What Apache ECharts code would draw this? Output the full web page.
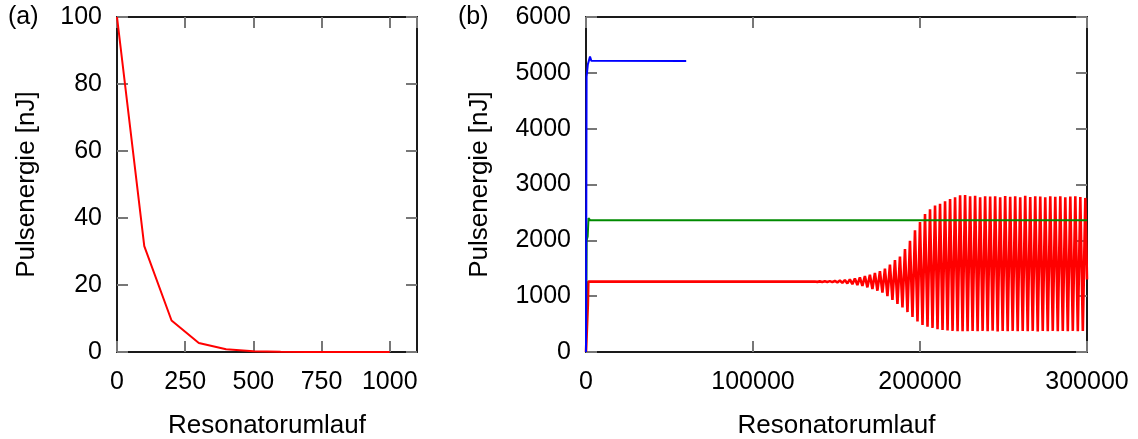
<!DOCTYPE html>
<html>
<head>
<meta charset="utf-8">
<title>Pulsenergie</title>
<script src="https://cdn.jsdelivr.net/npm/echarts@6/dist/echarts.min.js"></script>
<style>
	html, body { margin: 0; padding: 0; background: #fff; }
	#chart { width: 1138px; height: 439px; }
</style>
</head>
<body>
<div id="chart"></div>
<script>
// (a) Pulsenergie ueber die ersten Umlaeufe
var roundsA = [0, 100, 200, 300, 400, 500, 600, 700, 800, 900, 1000];
var energyA = [100, 31.6, 9.4, 2.7, 0.8, 0.25, 0.07, 0.02, 0.006, 0.002, 0.0005];

// (b) blau, gruen, rot
var blueRounds = [0, 350, 1100, 2400, 3200, 60000];
var blueEnergy = [0, 4930, 5150, 5290, 5215, 5210];

var greenRounds = [0, 400, 1000, 1500, 2500, 300000];
var greenEnergy = [0, 2000, 2070, 2400, 2358, 2358];

var redRounds = [0, 1100, 1400, 135500];
var redEnergy = [0, 850, 1262, 1260];

var redPeakRounds = [137000, 140000, 143000, 146000, 149000, 152000, 155000, 158000, 161000, 164000,
	167000, 170000, 173000, 176000, 179000, 182000, 185000, 188000, 191000, 194000,
	197000, 200000, 203000, 206000, 209000, 212000, 215000, 218000, 221000, 224000,
	227000, 230000, 233000, 236000, 239000, 242000, 245000, 248000, 251000, 254000,
	257000, 260000, 263000, 266000, 269000, 272000, 275000, 278000, 281000, 284000,
	287000, 290000, 293000, 296000, 299000];
var redPeakEnergy = [1264, 1265, 1267, 1269, 1272, 1280, 1290, 1300, 1315, 1335,
	1360, 1385, 1415, 1450, 1495, 1565, 1645, 1710, 1845, 1990,
	2180, 2330, 2470, 2555, 2625, 2655, 2700, 2740, 2770, 2805,
	2810, 2790, 2800, 2770, 2790, 2785, 2790, 2770, 2795, 2780,
	2790, 2770, 2800, 2775, 2790, 2785, 2770, 2790, 2780, 2790,
	2770, 2785, 2790, 2775, 2760];
var redTroughRounds = [138500, 141500, 144500, 147500, 150500, 153500, 156500, 159500, 162500, 165500,
	168500, 171500, 174500, 177500, 180500, 183500, 186500, 189500, 192500, 195500,
	198500, 201500, 204500, 207500, 210500, 213500, 216500, 219500, 222500, 225500,
	228500, 231500, 234500, 237500, 240500, 243500, 246500, 249500, 252500, 255500,
	258500, 261500, 264500, 267500, 270500, 273500, 276500, 279500, 282500, 285500,
	288500, 291500, 294500, 297500];
var redTroughEnergy = [1256, 1255, 1253, 1251, 1246, 1238, 1228, 1215, 1200, 1182,
	1158, 1128, 1098, 1062, 1000, 935, 860, 800, 715, 628,
	545, 485, 452, 432, 410, 395, 385, 378, 372, 370,
	372, 375, 370, 378, 372, 380, 368, 375, 372, 378,
	370, 375, 372, 378, 368, 375, 372, 378, 370, 375,
	372, 378, 370, 375];
var redEndRound = 300000;
var redEndEnergy = 1300;

var xTicksA = [0, 250, 500, 750, 1000];
var yTicksA = [0, 20, 40, 60, 80, 100];
var xTicksB = [0, 100000, 200000, 300000];
var yTicksB = [0, 1000, 2000, 3000, 4000, 5000, 6000];

function pairs(xs, ys) {
	var out = [];
	for (var i = 0; i < xs.length; i++) {
		out.push([xs[i], ys[i]]);
	}
	return out;
}

var redData = pairs(redRounds, redEnergy);
for (var i = 0; i < redPeakRounds.length; i++) {
	redData.push([redPeakRounds[i], redPeakEnergy[i]]);
	if (i < redTroughRounds.length) {
		redData.push([redTroughRounds[i], redTroughEnergy[i]]);
	}
}
redData.push([redEndRound, redEndEnergy]);

var FONT = '"Liberation Sans", Arial, sans-serif';
var frame = { show: true, onZero: false, lineStyle: { color: '#1a1a1a', width: 2 } };
var ticks = { show: true, inside: true, length: 11, lineStyle: { color: '#777', width: 2 } };
var tickLabel = { color: '#000', fontSize: 25, fontFamily: FONT, formatter: function(v) { return String(v); } };
var nameStyle = { color: '#000', fontSize: 26, fontFamily: FONT };

function mainX(grid, ticksArr, max, gap) {
	return {
		type: 'value', gridIndex: grid, position: 'bottom',
		min: ticksArr[0], max: max, interval: ticksArr[1] - ticksArr[0],
		name: 'Resonatorumlauf', nameLocation: 'middle', nameGap: gap, nameTextStyle: nameStyle,
		axisLine: frame, axisTick: ticks, splitLine: { show: false },
		axisLabel: Object.assign({ margin: 18, showMaxLabel: max === ticksArr[ticksArr.length - 1] }, tickLabel)
	};
}
function mirrorX(grid, ticksArr, max) {
	return {
		type: 'value', gridIndex: grid, position: 'top',
		min: ticksArr[0], max: max, interval: ticksArr[1] - ticksArr[0],
		axisLine: frame, axisTick: ticks, splitLine: { show: false }, axisLabel: { show: false }
	};
}
function mainY(grid, ticksArr, gap) {
	return {
		type: 'value', gridIndex: grid, position: 'left',
		min: ticksArr[0], max: ticksArr[ticksArr.length - 1], interval: ticksArr[1] - ticksArr[0],
		name: 'Pulsenergie [nJ]', nameLocation: 'middle', nameGap: gap, nameTextStyle: nameStyle,
		axisLine: frame, axisTick: ticks, splitLine: { show: false },
		axisLabel: Object.assign({ margin: 15 }, tickLabel)
	};
}
function mirrorY(grid, ticksArr) {
	return {
		type: 'value', gridIndex: grid, position: 'right',
		min: ticksArr[0], max: ticksArr[ticksArr.length - 1], interval: ticksArr[1] - ticksArr[0],
		axisLine: frame, axisTick: ticks, splitLine: { show: false }, axisLabel: { show: false }
	};
}

var chart = echarts.init(document.getElementById('chart'), null, { renderer: 'canvas' });
chart.setOption({
	animation: false,
	backgroundColor: '#fff',
	grid: [
		{ left: 117, top: 17, width: 300, height: 335, containLabel: false, outerBoundsMode: 'none' },
		{ left: 586, top: 17, width: 501, height: 335, containLabel: false, outerBoundsMode: 'none' }
	],
	xAxis: [
		mainX(0, xTicksA, 1100, 61),
		mirrorX(0, xTicksA, 1100),
		mainX(1, xTicksB, 300000, 61),
		mirrorX(1, xTicksB, 300000)
	],
	yAxis: [
		mainY(0, yTicksA, 77),
		mirrorY(0, yTicksA),
		mainY(1, yTicksB, 93),
		mirrorY(1, yTicksB)
	],
	graphic: [
		{ type: 'text', left: 8, top: 5, style: { text: '(a)', font: '25px ' + FONT, fill: '#000' } },
		{ type: 'text', left: 458, top: 5, style: { text: '(b)', font: '25px ' + FONT, fill: '#000' } }
	],
	series: [
		{
			type: 'line', xAxisIndex: 0, yAxisIndex: 0, data: pairs(roundsA, energyA),
			showSymbol: false, lineStyle: { color: '#ff0000', width: 2 }, itemStyle: { color: '#ff0000' }
		},
		{
			type: 'line', xAxisIndex: 2, yAxisIndex: 2, data: redData,
			showSymbol: false, lineStyle: { color: '#ff0000', width: 2.6 }, itemStyle: { color: '#ff0000' }
		},
		{
			type: 'line', xAxisIndex: 2, yAxisIndex: 2, data: pairs(greenRounds, greenEnergy),
			showSymbol: false, lineStyle: { color: '#008a00', width: 2 }, itemStyle: { color: '#008a00' }
		},
		{
			type: 'line', xAxisIndex: 2, yAxisIndex: 2, data: pairs(blueRounds, blueEnergy),
			showSymbol: false, lineStyle: { color: '#0000ff', width: 2 }, itemStyle: { color: '#0000ff' }
		}
	]
});
</script>
</body>
</html>
